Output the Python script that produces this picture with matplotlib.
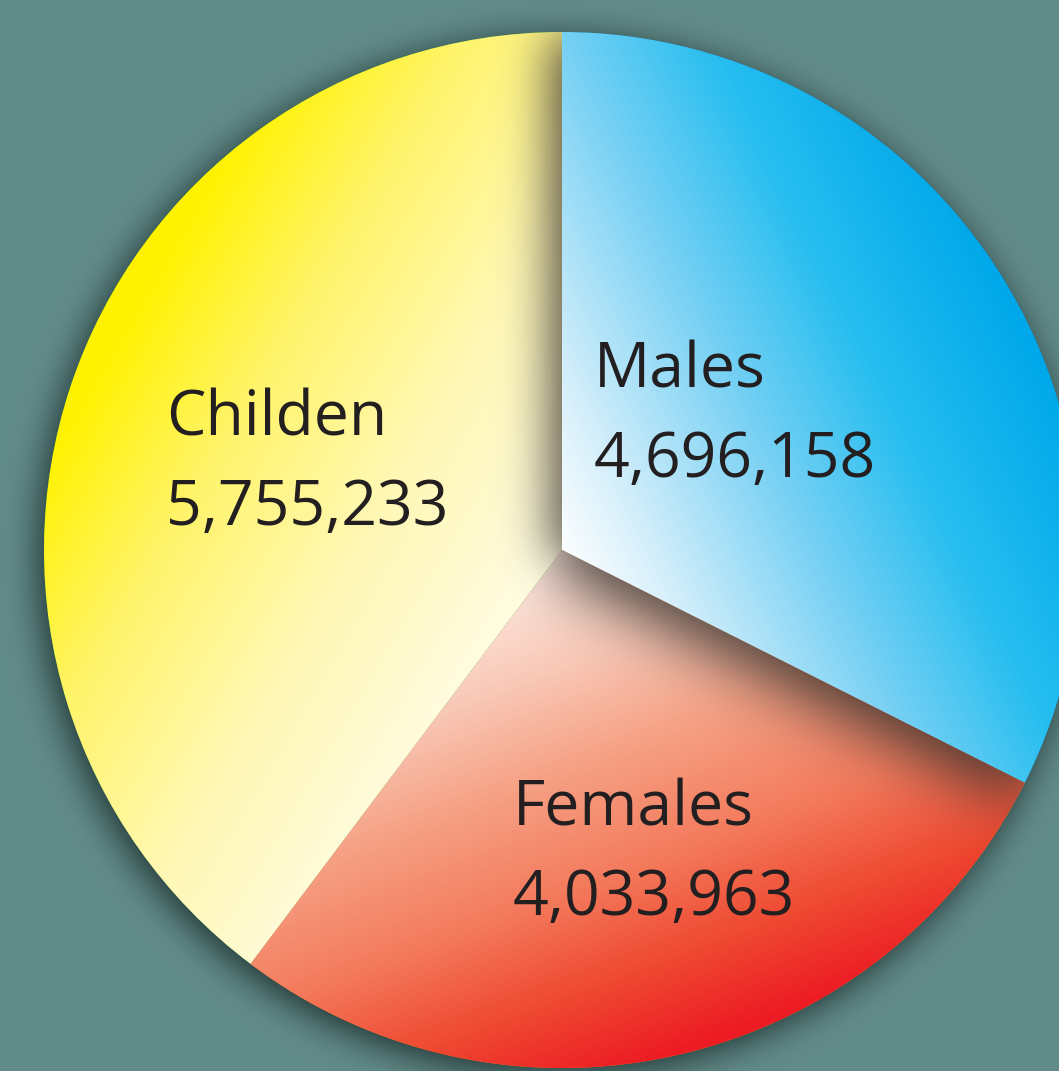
import numpy as np
import matplotlib
matplotlib.use("Agg")
import matplotlib.pyplot as plt
from matplotlib.colors import LinearSegmentedColormap

# data
labels = ["Males", "Females", "Childen"]
values = [4696158, 4033963, 5755233]

W, H = 1059, 1071
cx, cy, R = 562, 550, 518
bg = "#628c8a"
ink = "#231f20"

fig = plt.figure(figsize=(W / 100, H / 100), dpi=100, facecolor=bg)
ax = fig.add_axes([0, 0, 1, 1])

# y axis points down so the numbers below are plain pixel positions
wedges, _ = ax.pie(values, center=(cx, cy), radius=R, startangle=-90,
                   counterclock=True, wedgeprops=dict(linewidth=0))
ax.set_xlim(0, W)
ax.set_ylim(H, 0)
ax.set_aspect('auto')
ax.axis('off')

yy, xx = np.mgrid[0:H, 0:W] + 0.5


def ramp(t, stops):
    cmap = LinearSegmentedColormap.from_list("", stops)
    return cmap(np.clip(t, 0, 1))


def linear(ox, oy, ux, uy, scale):
    n = np.hypot(ux, uy)
    return ((xx - ox) * ux / n + (yy - oy) * uy / n) / scale


def blur(img, sigma):
    pad = int(4 * sigma)
    ph, pw = img.shape[0] + pad, img.shape[1] + pad
    ky = np.fft.fftfreq(ph)
    kx = np.fft.rfftfreq(pw)
    g = np.exp(-2 * (np.pi * sigma) ** 2 * (ky[:, None] ** 2 + kx[None, :] ** 2))
    out = np.fft.irfft2(np.fft.rfft2(img, s=(ph, pw)) * g, s=(ph, pw))
    return out[:img.shape[0], :img.shape[1]]


def wedge_mask(w, dx=0, dy=0):
    x = xx - dx
    y = yy - dy
    a = np.degrees(np.arctan2(y - cy, x - cx))
    inside = ((a - w.theta1) % 360) <= (w.theta2 - w.theta1)
    return (inside & (np.hypot(x - cx, y - cy) <= R)).astype(float)


def overlay(alpha, rgb):
    ov = np.zeros((H, W, 4))
    ov[..., :3] = np.array(rgb) / 255
    ov[..., 3] = np.clip(alpha, 0, 1)
    return ov


ext = (0, W, H, 0)

# outer soft shadow of the whole pie
disk = (np.hypot(xx - cx + 5, yy - cy - 7) <= R).astype(float)
ax.imshow(overlay(0.85 * blur(disk, 18), (18, 32, 32)), extent=ext,
          zorder=0.5, interpolation='bilinear')

# gradient fills
fills = [
    ramp(linear(580, 600, 0.9, -0.44, 520),
         [(0, "#ffffff"), (0.15, "#d8f0fb"), (0.45, "#76d0f4"), (0.7, "#26bef0"), (1, "#00a8ea")]),
    ramp(linear(560, 560, 0.35, 0.94, 500),
         [(0, "#fde8e0"), (0.2, "#f9c8b6"), (0.4, "#f6a084"), (0.62, "#f47c5e"), (0.82, "#ef4a32"), (1, "#ed1c24")]),
    ramp(linear(50, 450, 0.862, 0.507, 480),
         [(0, "#fff200"), (0.3, "#fff46a"), (0.65, "#fff8b4"), (1, "#fffce0")]),
]
for w, img in zip(wedges, fills):
    im = ax.imshow(img, extent=ext, zorder=2, interpolation='bilinear')
    im.set_clip_path(w)

# males wedge casts a soft shadow on the other two
cast_children = blur(wedge_mask(wedges[0], dx=-12, dy=2), 24)
cast_females = blur(wedge_mask(wedges[0], dx=-6, dy=22), 30)
for w, cast, k in [(wedges[2], cast_children, 0.85), (wedges[1], cast_females, 0.9)]:
    im = ax.imshow(overlay(k * cast, (58, 50, 44)), extent=ext, zorder=3,
                   interpolation='bilinear')
    im.set_clip_path(w)

# labels
label_pos = {"Males": (594, 388), "Females": (513, 826), "Childen": (166, 436)}
for lab, val in zip(labels, values):
    x, y = label_pos[lab]
    ax.text(x, y, lab, fontsize=45, family="Open Sans", color=ink, va='baseline', zorder=5)
    ax.text(x, y + 89, f"{val:,}", fontsize=45, family="Open Sans", color=ink, va='baseline', zorder=5)

plt.savefig("out.png", dpi=100, facecolor=bg)
plt.close()
